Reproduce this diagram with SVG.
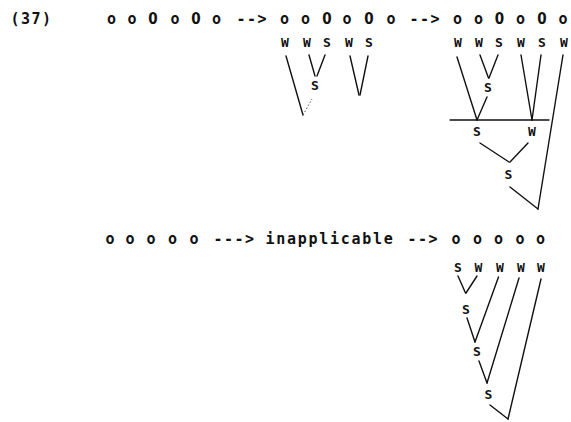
<svg xmlns="http://www.w3.org/2000/svg" width="571" height="422" viewBox="0 0 571 422">
  <style>
    .t { font-family: "DejaVu Sans Mono", "Liberation Mono", monospace; font-size: 15px; font-weight: bold; text-anchor: middle; fill: #111; }
    .z { font-family: "DejaVu Sans", "Liberation Sans", sans-serif; font-stretch: condensed; font-size: 15px; font-weight: bold; }
    .lab { font-family: "DejaVu Sans Mono", "Liberation Mono", monospace; font-size: 13px; font-weight: bold; text-anchor: middle; fill: #111; }
    .edge { stroke: #111; stroke-width: 1.4; fill: none; stroke-linecap: round; }
    .faint { stroke: #555; stroke-width: 1; stroke-dasharray: 1.5 2; fill: none; }
  </style>
  <rect width="571" height="422" fill="#fff"/>

  <!-- first typed line: example number and two derivation steps -->
  <g id="row1">
    <text class="t" x="15 25.5 36 46.5" y="24">(37)</text>
    <text class="t" x="111.5 132" y="24">oo<tspan class="z" x="153">0</tspan><tspan x="175">o</tspan><tspan class="z" x="196">0</tspan><tspan x="216.5">o</tspan></text>
    <text class="t" x="241 251.5 262" y="24">--&gt;</text>
    <text class="t" x="284.5 305.5" y="24">oo<tspan class="z" x="327">0</tspan><tspan x="347">o</tspan><tspan class="z" x="369">0</tspan><tspan x="391">o</tspan></text>
    <text class="t" x="414 424.5 435" y="24">--&gt;</text>
    <text class="t" x="457.5 478.5" y="24">oo<tspan class="z" x="499.5">0</tspan><tspan x="520.5">o</tspan><tspan class="z" x="542">0</tspan><tspan x="563">o</tspan></text>
  </g>

  <!-- second typed line -->
  <g id="row2">
    <text class="t" x="110 130 151 172.5 194" y="244">ooooo</text>
    <text class="t" x="218 228.5 239 249.5" y="244">---&gt;</text>
    <text class="t" x="270 280.8 291.5 302.3 313 323.8 334.5 345.3 356 366.8 377.5 388.3" y="244">inapplicable</text>
    <text class="t" x="412 422.5 433" y="244">--&gt;</text>
    <text class="t" x="456 477.5 498.5 520 540.5" y="244">ooooo</text>
  </g>

  <!-- connectors -->
  <g id="connectors">
    <!-- middle tree -->
    <line class="edge" x1="286" y1="56" x2="303" y2="115"/>
    <line class="faint" x1="303" y1="115" x2="312" y2="99"/>
    <line class="edge" x1="309" y1="55" x2="315" y2="76"/>
    <line class="edge" x1="325" y1="55" x2="317" y2="76"/>
    <line class="edge" x1="350" y1="56" x2="359" y2="95"/>
    <line class="edge" x1="368" y1="56" x2="360" y2="95"/>
    <!-- right tree -->
    <line class="edge" x1="457" y1="57" x2="477" y2="120"/>
    <line class="edge" x1="480" y1="55" x2="488.5" y2="78"/>
    <line class="edge" x1="498" y1="55" x2="489" y2="78"/>
    <line class="edge" x1="487" y1="97" x2="477" y2="120"/>
    <line class="edge" x1="450" y1="120" x2="549" y2="120"/>
    <line class="edge" x1="521" y1="55" x2="532" y2="120"/>
    <line class="edge" x1="541" y1="55" x2="532" y2="120"/>
    <line class="edge" x1="563" y1="55" x2="538" y2="209"/>
    <line class="edge" x1="480" y1="143" x2="509" y2="162"/>
    <line class="edge" x1="528" y1="143" x2="510" y2="162"/>
    <line class="edge" x1="510" y1="187" x2="538" y2="209"/>
    <!-- bottom tree -->
    <line class="edge" x1="458" y1="276" x2="465.5" y2="293"/>
    <line class="edge" x1="477" y1="276" x2="466" y2="293"/>
    <line class="edge" x1="467" y1="318" x2="475" y2="342"/>
    <line class="edge" x1="498.5" y1="277" x2="475" y2="342"/>
    <line class="edge" x1="479" y1="361" x2="487" y2="383"/>
    <line class="edge" x1="519" y1="278" x2="487" y2="383"/>
    <line class="edge" x1="490" y1="405" x2="508" y2="419"/>
    <line class="edge" x1="541" y1="279" x2="508" y2="419"/>
  </g>

  <!-- middle tree labels -->
  <g id="m-w1"><text class="lab" x="285" y="47">W</text></g>
  <g id="m-w2"><text class="lab" x="307" y="47">W</text></g>
  <g id="m-s1"><text class="lab" x="327" y="47">S</text></g>
  <g id="m-w3"><text class="lab" x="349" y="47">W</text></g>
  <g id="m-s2"><text class="lab" x="369" y="47">S</text></g>
  <g id="m-s3"><text class="lab" x="315" y="90">S</text></g>

  <!-- right tree labels -->
  <g id="r-w1"><text class="lab" x="458" y="47">W</text></g>
  <g id="r-w2"><text class="lab" x="479" y="47">W</text></g>
  <g id="r-s1"><text class="lab" x="499" y="47">S</text></g>
  <g id="r-w3"><text class="lab" x="521" y="47">W</text></g>
  <g id="r-s2"><text class="lab" x="542" y="47">S</text></g>
  <g id="r-w4"><text class="lab" x="564" y="47">W</text></g>
  <g id="r-s3"><text class="lab" x="488" y="92">S</text></g>
  <g id="r-s4"><text class="lab" x="477" y="136">S</text></g>
  <g id="r-w5"><text class="lab" x="532" y="136">W</text></g>
  <g id="r-s5"><text class="lab" x="508.5" y="179">S</text></g>

  <!-- bottom tree labels -->
  <g id="b-s1"><text class="lab" x="458" y="272">S</text></g>
  <g id="b-w1"><text class="lab" x="478.5" y="272">W</text></g>
  <g id="b-w2"><text class="lab" x="500" y="272">W</text></g>
  <g id="b-w3"><text class="lab" x="521" y="272">W</text></g>
  <g id="b-w4"><text class="lab" x="541" y="272">W</text></g>
  <g id="b-s2"><text class="lab" x="466" y="314">S</text></g>
  <g id="b-s3"><text class="lab" x="477" y="356">S</text></g>
  <g id="b-s4"><text class="lab" x="488.5" y="399">S</text></g>
</svg>
